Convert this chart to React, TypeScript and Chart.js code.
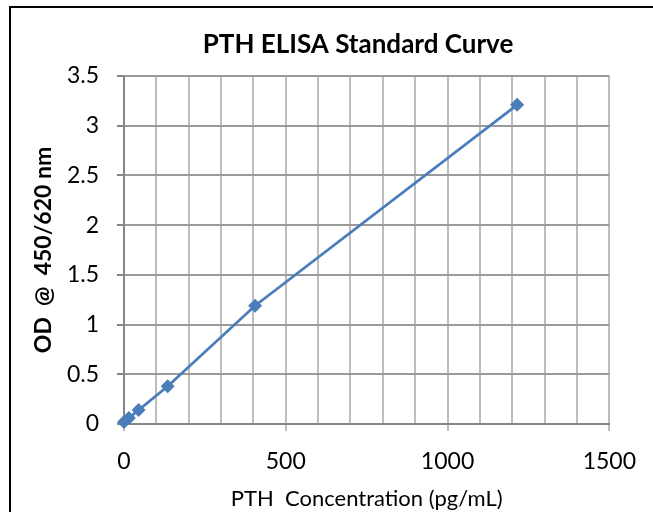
import React, { useEffect, useRef } from "react";
import { Chart, registerables } from "chart.js";

Chart.register(...registerables);

const chartTitle = "PTH ELISA Standard Curve";
const xAxisTitle = "PTH  Concentration (pg/mL)";
const yAxisTitle = "OD  @  450/620 nm";
const concentrations = [0, 15, 45, 135, 405, 1215];
const odValues = [0.02, 0.06, 0.14, 0.38, 1.19, 3.21];
const xLabelValues = [0, 500, 1000, 1500];

const FONT = "Lato, 'Open Sans', sans-serif";

const titlePlugin = {
  id: "offsetTitle",
  afterDraw(chart: any) {
    const ctx = chart.ctx;
    ctx.save();
    ctx.font = `bold 26px ${FONT}`;
    ctx.fillStyle = "#000";
    ctx.textAlign = "center";
    ctx.textBaseline = "middle";
    ctx.fillText(chartTitle, 358, 45);
    ctx.restore();
  },
};

export default function App() {
  const ref = useRef<HTMLCanvasElement | null>(null);

  useEffect(() => {
    if (!ref.current) return;
    const chart = new Chart(ref.current, {
      type: "scatter",
      data: {
        datasets: [
          {
            data: concentrations.map((x, i) => ({ x, y: odValues[i] })),
            showLine: true,
            clip: false,
            borderColor: "#4a7ebb",
            backgroundColor: "#4a7ebb",
            borderWidth: 2.75,
            pointStyle: "rectRot",
            pointRadius: 7,
            pointBorderWidth: 0,
            tension: 0,
          },
        ],
      },
      plugins: [titlePlugin],
      options: {
        animation: false,
        responsive: false,
        maintainAspectRatio: false,
        layout: { padding: { left: 12, right: 31, top: 76, bottom: 0 } },
        plugins: {
          legend: { display: false },
          tooltip: { enabled: false },
          title: { display: false },
        },
        scales: {
          x: {
            type: "linear",
            min: 0,
            max: 1500,
            afterFit: (s: any) => {
              s.height = 88;
            },
            ticks: {
              stepSize: 100,
              autoSkip: false,
              maxRotation: 0,
              padding: 17,
              color: "#000",
              font: { family: FONT, size: 23 },
              callback: (v: any) => (xLabelValues.includes(Number(v)) ? String(v) : ""),
            },
            grid: {
              color: "#bdbdbd",
              lineWidth: 2,
              drawTicks: true,
              tickLength: 7,
              tickColor: (ctx: any) =>
                ctx.tick && xLabelValues.includes(Number(ctx.tick.value)) ? "#bdbdbd" : "rgba(0,0,0,0)",
            },
            border: { color: "#868686", width: 2 },
            title: {
              display: true,
              text: xAxisTitle,
              color: "#000",
              font: { family: FONT, size: 22, lineHeight: 1.2 },
              padding: { top: 2, bottom: 0 },
            },
          },
          y: {
            type: "linear",
            min: 0,
            max: 3.5,
            afterFit: (s: any) => {
              s.width = 112;
            },
            ticks: {
              stepSize: 0.5,
              padding: 18,
              color: "#000",
              font: { family: FONT, size: 23 },
              callback: (v: any) => String(Number(v)),
            },
            grid: {
              color: "#9a9a9a",
              lineWidth: 2,
              drawTicks: true,
              tickLength: 7,
              tickColor: "#868686",
            },
            border: { color: "#868686", width: 2 },
            title: {
              display: true,
              text: yAxisTitle,
              color: "#000",
              font: { family: FONT, size: 23, weight: "bold", lineHeight: 1.2 },
              padding: { top: 18, bottom: 0 },
            },
          },
        },
      },
    });
    return () => chart.destroy();
  }, []);

  return (
    <div
      style={{
        position: "absolute",
        left: 0,
        top: 0,
        width: 653,
        height: 512,
        background: "#fff",
        overflow: "hidden",
      }}
    >
      <div
        style={{
          position: "absolute",
          left: 9,
          top: 6,
          width: 700,
          height: 600,
          borderLeft: "2px solid #000",
          borderTop: "2px solid #000",
        }}
      />
      <canvas
        ref={ref}
        width={653}
        height={512}
        style={{ position: "absolute", left: 0, top: 0, width: 653, height: 512 }}
      />
    </div>
  );
}
